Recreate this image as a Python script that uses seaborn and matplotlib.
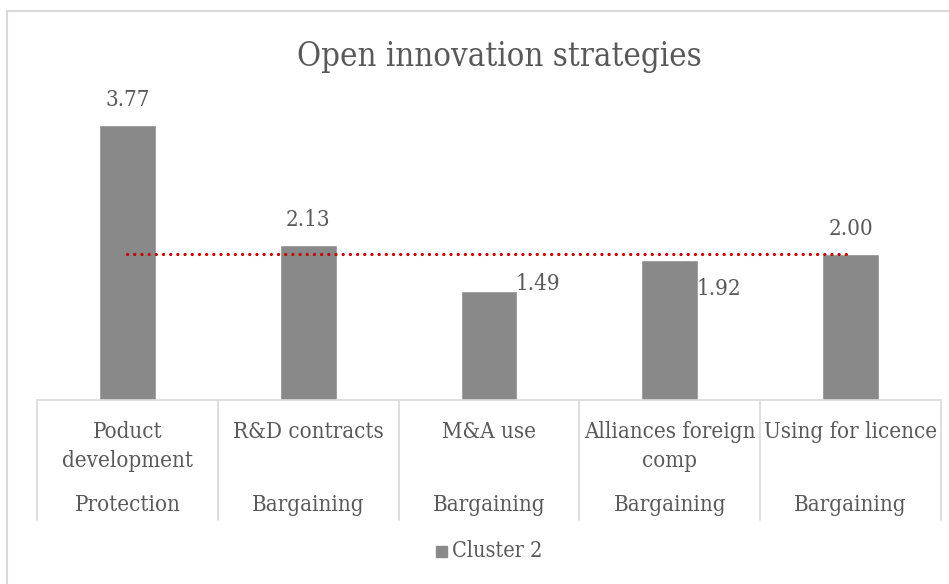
import matplotlib
matplotlib.use("Agg")
import matplotlib.pyplot as plt
from matplotlib.lines import Line2D
from matplotlib.patches import Rectangle
import matplotlib.transforms as mtransforms
import pandas as pd
import seaborn as sns

# Data
strategies = ["Poduct\ndevelopment", "R&D contracts", "M&A use",
              "Alliances foreign\ncomp", "Using for licence"]
groups = ["Protection", "Bargaining", "Bargaining", "Bargaining", "Bargaining"]
cluster2 = [3.77, 2.13, 1.49, 1.92, 2.00]
reference_level = [2.00, 2.00, 2.00, 2.00, 2.00]
# where each value label sits relative to its bar
label_side = ["top", "top", "right", "right", "top"]

BAR = "#898989"
TEXT = "#595959"
GRID = "#D9D9D9"
RED = "#C00000"

sns.set_theme(style="white")
plt.rcParams["font.family"] = ["DejaVu Serif"]
plt.rcParams["font.stretch"] = "condensed"

W, H = 949, 584
fig = plt.figure(figsize=(W / 100, H / 100), dpi=100)

left_px, right_px = 37, 941
base_px = 400
unit_px = 72.9
ymax = 4.0
ax = fig.add_axes([left_px / W, (H - base_px) / H,
                   (right_px - left_px) / W, unit_px * ymax / H])

df = pd.DataFrame({"strategy": strategies, "value": cluster2})
sns.barplot(data=df, x="strategy", y="value", color=BAR, width=0.315,
            saturation=1, ax=ax, zorder=2)
sns.lineplot(x=list(range(len(reference_level))), y=reference_level, ax=ax,
             color=RED, linewidth=2.3, linestyle=(0, (0.05, 2.2)),
             dash_capstyle="round", zorder=3)

ax.set_xlim(-0.5, len(strategies) - 0.5)
ax.set_ylim(0, ymax)
ax.set_xlabel("")
ax.set_ylabel("")
ax.set_xticks([])
ax.set_yticks([])
for s in ax.spines.values():
    s.set_visible(False)
ax.patch.set_alpha(0)

LABEL_FS = 16
# value labels
for i, (v, side) in enumerate(zip(cluster2, label_side)):
    if side == "top":
        ax.annotate(f"{v:.2f}", (i, v), xytext=(0, 25), textcoords="offset pixels",
                    ha="center", va="center", fontsize=LABEL_FS, color=TEXT)
    else:
        dy = 7 if i == 2 else -29
        ax.annotate(f"{v:.2f}", (i + 0.1575, v), xytext=(-2, dy),
                    textcoords="offset pixels", ha="left", va="center",
                    fontsize=LABEL_FS, color=TEXT)

# multi-level category axis
trans = mtransforms.blended_transform_factory(ax.transData, fig.transFigure)
def fy(px):
    return 1 - px / H

ax.plot([-0.5, len(strategies) - 0.5], [fy(base_px)] * 2, transform=trans,
        color=GRID, lw=1.2, clip_on=False)
for b in range(len(strategies) + 1):
    ax.plot([b - 0.5] * 2, [fy(base_px), fy(520)], transform=trans,
            color=GRID, lw=1.2, clip_on=False)
for i, (name, grp) in enumerate(zip(strategies, groups)):
    ax.text(i, fy(421), name, transform=trans, ha="center", va="top",
            fontsize=LABEL_FS, color=TEXT, linespacing=1.42)
    ax.text(i, fy(505), grp, transform=trans, ha="center", va="center",
            fontsize=LABEL_FS, color=TEXT)

# title
fig.text(499 / W, fy(57), "Open innovation strategies",
         ha="center", va="center", fontsize=23.6, color=TEXT)

# legend
fig.patches.append(Rectangle((436 / W, fy(557)), 11 / W, 11 / H,
                             transform=fig.transFigure, color=BAR))
fig.text(452 / W, fy(551), "Cluster 2", ha="left", va="center",
         fontsize=15.5, color=TEXT)

# chart frame
fig.add_artist(Line2D([7 / W, 1], [fy(11), fy(11)], transform=fig.transFigure,
                      color=GRID, lw=1.5))
fig.add_artist(Line2D([7 / W, 7 / W], [fy(11), 0], transform=fig.transFigure,
                      color=GRID, lw=1.5))

fig.savefig("out.png", dpi=100, facecolor="white")
